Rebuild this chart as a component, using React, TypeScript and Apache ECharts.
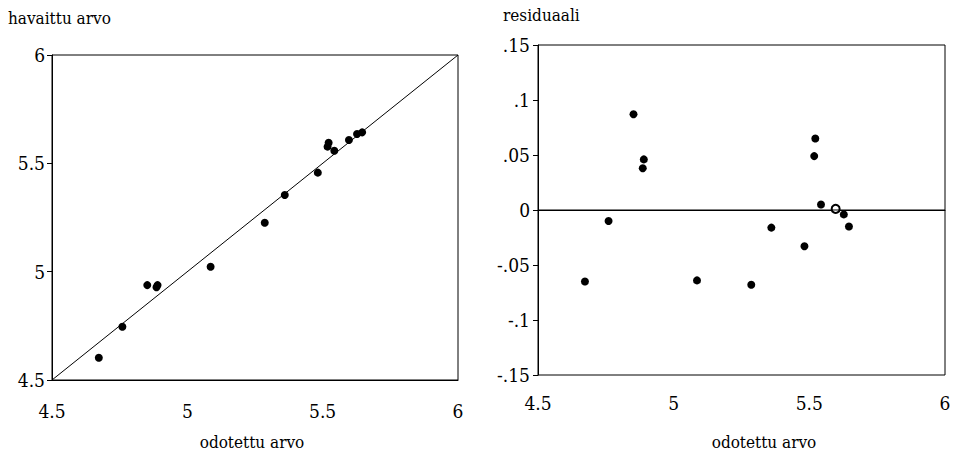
import React, { useEffect, useRef } from "react";
import * as echarts from "echarts";

// expected values (odotettu arvo), shared by both panels
const expected = [4.673, 4.760, 4.852, 4.886, 4.890, 5.086, 5.286, 5.360, 5.482, 5.518, 5.522, 5.543, 5.597, 5.627, 5.646];
// observed values (havaittu arvo)
const observed = [4.603, 4.746, 4.938, 4.928, 4.938, 5.023, 5.226, 5.354, 5.457, 5.577, 5.595, 5.558, 5.608, 5.635, 5.643];
// residuals (residuaali)
const residuals = [-0.065, -0.010, 0.087, 0.038, 0.046, -0.064, -0.068, -0.016, -0.033, 0.049, 0.065, 0.005, 0.001, -0.004, -0.015];
// hollow-looking point index in residual panel
const hollowIndex = 12;

const xRange = [4.5, 6];
const leftYRange = [4.5, 6];
const rightYRange = [-0.15, 0.15];

const FONT = "DejaVu Serif Condensed, DejaVu Serif";

function fmtResidual(v: number) {
  const r = Math.round(v * 100) / 100;
  if (r === 0) return "0";
  const s = String(r);
  return s.replace(/^(-?)0\./, "$1.");
}

export default function App() {
  const ref = useRef<HTMLDivElement>(null);
  useEffect(() => {
    if (!ref.current) return;
    const chart = echarts.init(ref.current, null, { renderer: "svg" });
    const axisLabel = { color: "#000", fontFamily: FONT, fontSize: 19 };
    const axisLine = { show: true, lineStyle: { color: "#000", width: 1 } };
    const titleStyle = { fontFamily: FONT, fontSize: 17, fill: "#000" };
    chart.setOption({
      animation: false,
      backgroundColor: "#fff",
      textStyle: { fontFamily: FONT },
      grid: [
        { left: 52, top: 55, right: 497, bottom: 79, show: true, borderColor: "#000", borderWidth: 1 },
        { left: 538, top: 45, right: 10, bottom: 84, show: true, borderColor: "#000", borderWidth: 1 },
      ],
      xAxis: [
        {
          gridIndex: 0, type: "value", min: xRange[0], max: xRange[1], interval: 0.5,
          axisLine, axisTick: { show: false }, splitLine: { show: false },
          axisLabel: { ...axisLabel, margin: 21 },
        },
        {
          gridIndex: 1, type: "value", min: xRange[0], max: xRange[1], interval: 0.5,
          axisLine, axisTick: { show: false }, splitLine: { show: false },
          axisLabel: { ...axisLabel, margin: 18 },
        },
      ],
      yAxis: [
        {
          gridIndex: 0, type: "value", min: leftYRange[0], max: leftYRange[1], interval: 0.5,
          axisLine, axisTick: { show: true, length: 5, lineStyle: { color: "#000" } }, splitLine: { show: false },
          axisLabel: { ...axisLabel, margin: 7 },
        },
        {
          gridIndex: 1, type: "value", min: rightYRange[0], max: rightYRange[1], interval: 0.05,
          axisLine, axisTick: { show: true, length: 5, lineStyle: { color: "#000" } }, splitLine: { show: false },
          axisLabel: { ...axisLabel, margin: 8, formatter: (v: number) => fmtResidual(v) },
        },
      ],
      graphic: [
        { type: "text", x: 8, y: 18, style: { ...titleStyle, text: "havaittu arvo", textVerticalAlign: "middle" } },
        { type: "text", x: 503, y: 15, style: { ...titleStyle, text: "residuaali", textVerticalAlign: "middle" } },
        { type: "text", x: 252, y: 442, style: { ...titleStyle, text: "odotettu arvo", textAlign: "center", textVerticalAlign: "middle" } },
        { type: "text", x: 764, y: 442, style: { ...titleStyle, text: "odotettu arvo", textAlign: "center", textVerticalAlign: "middle" } },
      ],
      series: [
        {
          type: "line", xAxisIndex: 0, yAxisIndex: 0, symbol: "none",
          lineStyle: { color: "#000", width: 1 },
          data: [[xRange[0], leftYRange[0]], [xRange[1], leftYRange[1]]],
          silent: true,
        },
        {
          type: "scatter", xAxisIndex: 0, yAxisIndex: 0, symbolSize: 8,
          itemStyle: { color: "#000", opacity: 1 },
          data: expected.map((x, i) => [x, observed[i]]),
        },
        {
          type: "line", xAxisIndex: 1, yAxisIndex: 1, symbol: "none",
          lineStyle: { color: "#000", width: 1 },
          data: [[xRange[0], 0], [xRange[1], 0]],
          silent: true,
        },
        {
          type: "scatter", xAxisIndex: 1, yAxisIndex: 1, symbolSize: 8,
          itemStyle: { color: "#000", opacity: 1 },
          data: expected.map((x, i) =>
            i === hollowIndex
              ? { value: [x, residuals[i]], itemStyle: { color: "#fff", borderColor: "#000", borderWidth: 2 } }
              : [x, residuals[i]]
          ),
        },
      ],
    });
    return () => chart.dispose();
  }, []);
  return (
    <div
      ref={ref}
      style={{ position: "absolute", left: 0, top: 0, width: 955, height: 459, background: "#fff" }}
    />
  );
}
